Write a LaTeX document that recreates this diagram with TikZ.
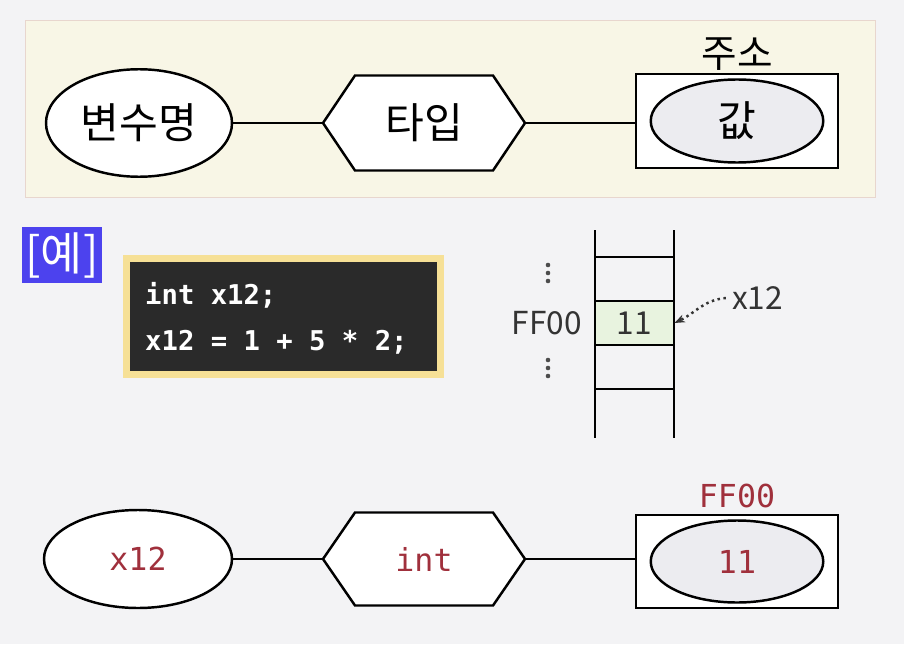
\documentclass[tikz,border=0pt]{standalone}
\usepackage{fontspec}
\setmainfont{Noto Sans CJK KR}
\setmonofont{DejaVu Sans Mono}
\usepackage{tikz}
\usetikzlibrary{arrows.meta,positioning,shapes.geometric,calc}
\definecolor{bgray}{RGB}{243,243,245}
\definecolor{panelfill}{RGB}{248,246,230}
\definecolor{paneledge}{RGB}{232,214,206}
\definecolor{exblue}{RGB}{76,66,238}
\definecolor{codebg}{RGB}{42,42,42}
\definecolor{codeedge}{RGB}{246,224,150}
\definecolor{cellgreen}{RGB}{232,243,223}
\definecolor{valgray}{RGB}{236,236,240}
\definecolor{codered}{RGB}{160,48,60}
\tikzset{
  namenode/.style={draw, ellipse, line width=1.4pt, fill=white,
                   minimum width=#1, minimum height=2.15cm, inner sep=0pt},
  typenode/.style={rectangle, minimum width=4.04cm, minimum height=1.9cm, inner sep=0pt},
  hexline/.style={line width=1.4pt, fill=white, line join=miter},
  addrnode/.style={draw, rectangle, line width=1.4pt, fill=white,
                   minimum width=4.04cm, minimum height=1.88cm, inner sep=0pt},
  valnode/.style={draw, ellipse, line width=1.4pt, fill=valgray,
                  minimum width=3.45cm, minimum height=1.66cm, inner sep=0pt},
  link/.style={line width=1.4pt},
  kfont/.style={font=\fontsize{24}{26}\selectfont},
  cfont/.style={font=\ttfamily\fontsize{18}{20}\selectfont, text=codered},
  mfont/.style={font=\fontsize{18}{20}\selectfont, text=black!80},
  memdot/.style={fill=black!70, circle, inner sep=0pt, minimum size=2.6pt},
}
\begin{document}
\begin{tikzpicture}
\useasboundingbox (0,0) rectangle (18.08,-12.88);
\fill[bgray] (0,0) rectangle (18.08,-12.88);
% Top panel
\node[draw=paneledge, fill=panelfill, minimum width=17cm, minimum height=3.54cm] (panel) at (9,-2.17) {};
\node[namenode=3.72cm, kfont] (name) at (2.78,-2.46) {변수명};
\draw[hexline] (8.48,-2.46) ++(-2.02,0) -- ++(0.64,0.95) -- ++(2.76,0) -- ++(0.64,-0.95)
  -- ++(-0.64,-0.95) -- ++(-2.76,0) -- cycle;
\node[typenode, kfont] (type) at (8.48,-2.46) {타입};
\node[addrnode] (addr) at (14.74,-2.42) {};
\node[valnode, kfont] (val) at (addr.center) {값};
\node[font=\fontsize{22}{24}\selectfont, above=-2pt of addr] (addrlbl) {주소};
\draw[link] (name.east) -- (type.west);
\draw[link] (type.east) -- (type.east -| addr.west);
% Example label
\node[fill=exblue, text=white, minimum width=1.6cm, minimum height=1.12cm, inner sep=0pt,
      font=\fontsize{26}{28}\selectfont] (ex) at (1.24,-5.1) {[예]};
% Code box
\node[draw=codeedge, line width=4pt, fill=codebg, minimum width=6.28cm, minimum height=2.32cm] (code) at (5.67,-6.33) {};
\node[anchor=west, text=white, font=\ttfamily\bfseries\fontsize{15.5}{22}\selectfont, align=left] (codetxt) at (2.78,-6.36)
  {int x12;\\[4pt]x12 = 1 + 5 * 2;};
% Memory
\node[fill=cellgreen, minimum width=1.58cm, minimum height=0.88cm, mfont] (cell) at (12.69,-6.46) {11};
\draw[line width=1.4pt] (11.9,-4.6) -- (11.9,-8.76);
\draw[line width=1.4pt] (13.48,-4.6) -- (13.48,-8.76);
\foreach \y in {-5.14,-6.02,-6.9,-7.78}
  \draw[line width=1.4pt] (11.9,\y) -- (13.48,\y);
\node[mfont, anchor=east] (addrval) at (11.76,-6.46) {FF00};
\foreach \y in {-5.3,-5.46,-5.62,-7.2,-7.36,-7.52}
  \node[memdot] at (10.96,\y) {};
\node[mfont] (varlbl) at (15.15,-5.96) {x12};
\draw[-{Stealth[length=6pt]}, dotted, line width=1.4pt, black!80] (varlbl.west) to[out=185, in=25] (cell.east);
% Bottom row
\node[namenode=3.76cm, minimum height=1.96cm, cfont] (name2) at (2.76,-11.18) {x12};
\draw[hexline] (8.48,-11.18) ++(-2.02,0) -- ++(0.64,0.93) -- ++(2.76,0) -- ++(0.64,-0.93)
  -- ++(-0.64,-0.93) -- ++(-2.76,0) -- cycle;
\node[typenode, cfont] (type2) at (8.48,-11.18) {int};
\node[addrnode, minimum height=1.86cm] (addr2) at (14.74,-11.23) {};
\node[valnode, minimum height=1.64cm, cfont] (val2) at (addr2.center) {11};
\node[cfont, above=0pt of addr2] (addrlbl2) {FF00};
\draw[link] (name2.east) -- (type2.west);
\draw[link] (type2.east) -- (type2.east -| addr2.west);
\end{tikzpicture}
\end{document}
